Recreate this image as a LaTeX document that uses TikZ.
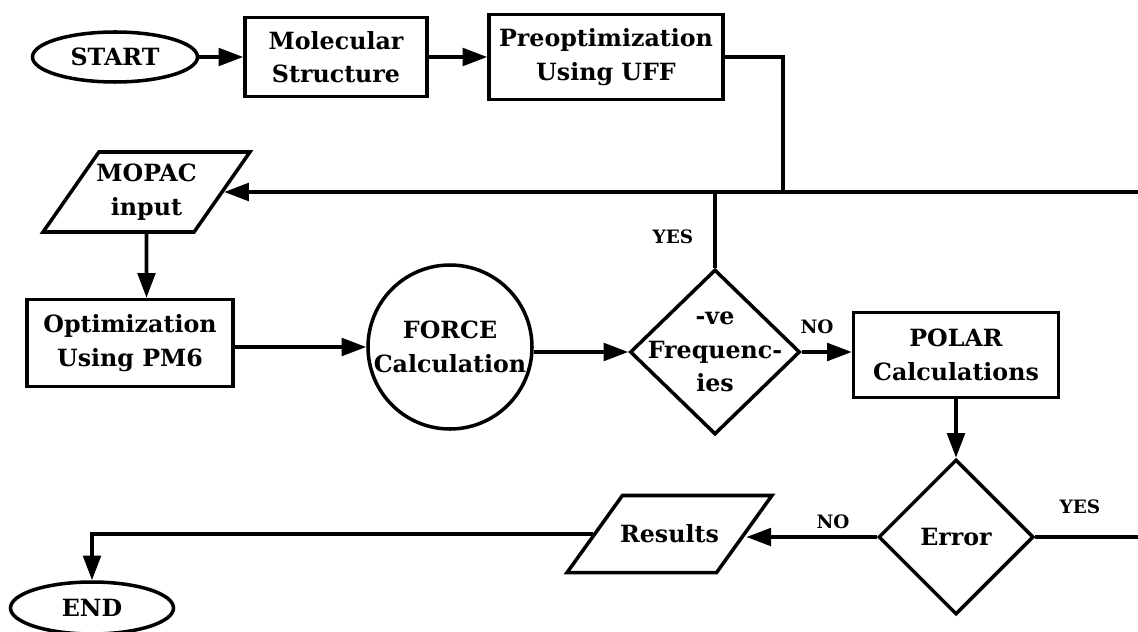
\documentclass[tikz,border=0pt]{standalone}
\usepackage{amsmath}
\usepackage{xcolor}
\usepackage{fontspec}
\setmainfont{DejaVu Serif}
\usepackage{tikz}
\usetikzlibrary{shapes.geometric,arrows.meta}

\begin{document}
\begin{tikzpicture}[line width=2pt,
    every node/.style={font=\fontsize{13.5}{19}\selectfont\bfseries, align=center},
    term/.style={ellipse, draw, line width=2pt, inner sep=0pt},
    block/.style={rectangle, draw, line width=2pt, inner sep=2pt},
    io/.style={trapezium, trapezium left angle=56, trapezium right angle=124,
        trapezium stretches=true, draw, line width=2pt, inner sep=0pt},
    decision/.style={diamond, draw, line width=2pt, inner sep=0pt},
    arr/.style={-{Triangle[length=14pt,width=10pt]}},
    lbl/.style={font=\fontsize{10.5}{12}\selectfont\bfseries}]
        \useasboundingbox (0,0) rectangle (22.76,-12.62);

        % Top row
        \node[term, minimum width=3.3cm, minimum height=1cm] (start) at (2.3,-1.14) {START};
        \node[block, minimum width=3.64cm, minimum height=1.58cm] (mol) at (6.72,-1.14) {Molecular\\Structure};
        \node[block, minimum width=4.68cm, minimum height=1.7cm] (preopt) at (12.12,-1.14) {Preoptimization\\Using UFF};
        \draw[arr] (start) -- (mol);
        \draw[arr] (mol) -- (preopt);

        % MOPAC input and the loop line
        \node[io, minimum width=4.14cm, minimum height=1.6cm, label={center:{MOPAC\\input}}] (mopac) at (2.93,-3.84) {\phantom{x}};
        \coordinate (join) at (15.66,-3.84);
        \coordinate (topR) at (22.76,-3.84);
        \draw (preopt.east) -| (join);
        \draw[arr] (topR) -- (mopac);

        % Middle row
        \node[block, minimum width=4.12cm, minimum height=1.74cm] (opt) at (2.6,-6.86) {Optimization\\Using PM6};
        \node[circle, draw, line width=2pt, minimum size=3.28cm, inner sep=0pt] (force) at (9,-6.94) {FORCE\\Calculation};
        \node[decision, minimum width=3.4cm, minimum height=3.3cm, label={center:{-ve\\Frequenc-\\ies}}] (freq) at (14.3,-7.04) {\phantom{x}};
        \node[block, minimum width=4.1cm, minimum height=1.7cm] (polar) at (19.12,-7.1) {POLAR\\Calculations};
        \draw[arr] (mopac) -- (mopac |- opt.north);
        \draw[arr] (opt.east |- force.west) -- (force.west);
        \draw[arr] (force.east |- freq.west) -- (freq.west);
        \draw[arr] (freq.east) -- (freq.east -| polar.west);
        \draw (freq.north) -- (freq.north |- topR);
        \node[lbl] (yes1) at (13.46,-4.74) {YES};
        \node[lbl] (no1) at (16.34,-6.54) {NO};

        % Bottom row
        \node[decision, minimum width=3.1cm, minimum height=3.1cm] (error) at (19.12,-10.74) {Error};
        \node[io, minimum width=4.1cm, minimum height=1.54cm, label={center:{Results}}] (results) at (13.39,-10.68) {\phantom{x}};
        \node[term, minimum width=3.26cm, minimum height=1.04cm] (end) at (1.84,-12.16) {END};
        \coordinate (errR) at (22.76,-10.74);
        \draw[arr] (polar) -- (error);
        \draw[arr] (error.west) -- (error.west -| results.east);
        \draw (error) -- (errR);
        \draw[arr] (results.west) -| (end.north);
        \node[lbl] (no2) at (16.66,-10.44) {NO};
        \node[lbl] (yes2) at (21.6,-10.14) {YES};
    \end{tikzpicture}
\end{document}
